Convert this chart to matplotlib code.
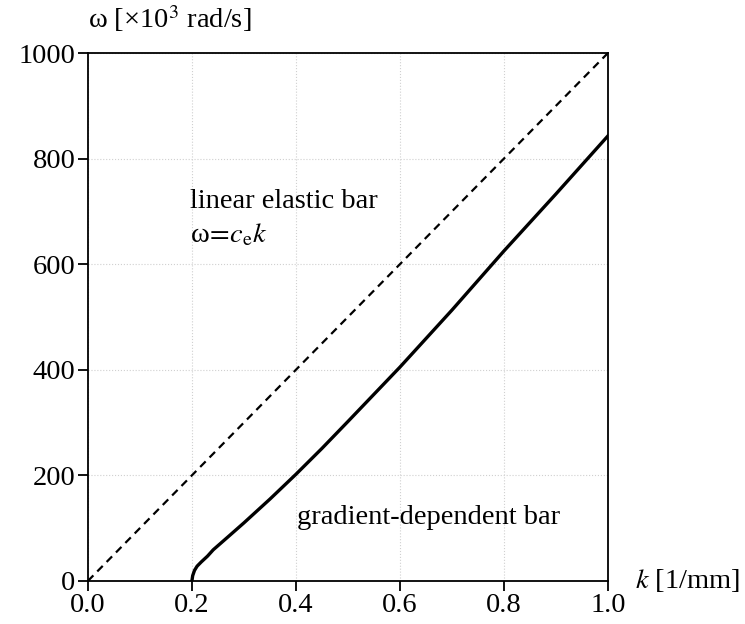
import numpy as np
import matplotlib
matplotlib.use('Agg')
import matplotlib.pyplot as plt

plt.rcParams['font.family'] = ['Liberation Serif', 'DejaVu Serif']
plt.rcParams['mathtext.fontset'] = 'stix'
plt.rcParams['font.size'] = 20.5

# elastic bar: omega = c_e * k
k_el = [0.0, 1.0]
w_el = [0.0, 1000.0]

# gradient-dependent bar
k_gd = [0.2, 0.2015, 0.205, 0.21, 0.218, 0.23, 0.241, 0.27, 0.3, 0.35,
        0.4, 0.45, 0.5, 0.6, 0.7, 0.8, 0.9, 1.0]
w_gd = [0, 10, 20, 28, 36, 47, 59, 84, 110, 155,
        202, 251, 302, 405, 513, 625, 733, 843]

xticks = [0.0, 0.2, 0.4, 0.6, 0.8, 1.0]
yticks = [0, 200, 400, 600, 800, 1000]

fig = plt.figure(figsize=(7.45, 6.24), dpi=100)
ax = fig.add_axes([0.118, 0.069, 0.698, 0.846])

ax.plot(k_el, w_el, 'k--', lw=1.6, dashes=(3.5, 2.5))
ax.plot(k_gd, w_gd, 'k-', lw=2.4)

ax.set_xlim(0, 1)
ax.set_ylim(0, 1000)
ax.set_xticks(xticks)
ax.set_xticklabels(['%.1f' % t for t in xticks])
ax.set_yticks(yticks)
ax.grid(True, ls=':', lw=0.8, color='#d0d0d0')
ax.tick_params(direction='out', length=7, width=1.3, pad=2)
for s in ax.spines.values():
    s.set_linewidth(1.3)

ax.text(0.196, 706, 'linear elastic bar', va='baseline', ha='left')
ax.text(0.196, 655, r'ω$\!=\!c_{\mathrm{e}}k$', va='center', ha='left')
ax.text(0.402, 121, 'gradient-dependent bar', va='center', ha='left')

fig.text(0.118, 0.97, 'ω [×10$^3$ rad/s]', ha='left', va='center')
fig.text(0.853, 0.07, '$k$ [1/mm]', ha='left', va='center')

plt.savefig('out.png', dpi=100)
